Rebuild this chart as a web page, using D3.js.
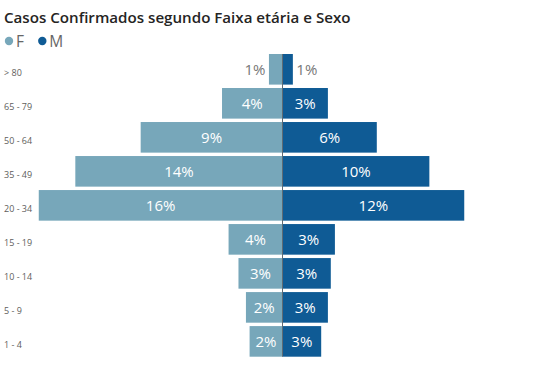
<!DOCTYPE html>
<html>
<head>
<meta charset="utf-8">
<script src="https://cdn.jsdelivr.net/npm/d3@7"></script>
<style>
  html, body { margin: 0; padding: 0; background: #fff; }
  svg { display: block; }
</style>
</head>
<body>
<svg id="chart" width="537" height="368"></svg>
<script>
const categories = ["> 80", "65 - 79", "50 - 64", "35 - 49", "20 - 34", "15 - 19", "10 - 14", "5 - 9", "1 - 4"];
const femaleValues = [0.89, 3.97, 9.31, 13.6, 16.0, 3.54, 2.89, 2.4, 2.16];
const maleValues = [0.68, 2.98, 6.19, 9.64, 11.93, 3.44, 3.17, 2.98, 2.54];
const seriesNames = ["F", "M"];
const title = "Casos Confirmados segundo Faixa etária e Sexo";

const colors = { F: "#77A7BA", M: "#0F5B95" };
const font = "'Open Sans', 'Segoe UI', sans-serif";

const svg = d3.select("#chart");

// Title
const t = svg.append("text")
  .attr("x", 4).attr("y", 23)
  .attr("font-family", font).attr("font-weight", 600)
  .attr("font-size", 16).attr("fill", "#252423")
  .text(title);
const tw = t.node().getComputedTextLength();
if (tw > 347) t.attr("font-size", 16 * 347 / tw);

// Legend
const legend = svg.append("g");
const legendX = [9, 42.3];
seriesNames.forEach((s, i) => {
  legend.append("circle").attr("cx", legendX[i]).attr("cy", 41).attr("r", 4.2).attr("fill", colors[s]);
  legend.append("text").attr("x", legendX[i] + 7).attr("y", 46.5)
    .attr("font-family", font).attr("font-size", 15.5).attr("fill", "#666666").text(s);
});

// Scales
const x = d3.scaleLinear().domain([-16.03, 16.03]).range([38.3, 526.7]);
const y = d3.scaleBand().domain(categories).range([52.3, 358.4]).paddingInner(0.1).paddingOuter(0.05);

// Category labels
svg.append("g").selectAll("text").data(categories).join("text")
  .attr("x", 4)
  .attr("y", d => y(d) + y.bandwidth() / 2 + 7)
  .attr("font-family", font).attr("font-size", 9).attr("fill", "#605E5C")
  .text(d => d);

const rows = categories.map((c, i) => ({ c, F: femaleValues[i], M: maleValues[i] }));

// Bars
const bars = svg.append("g");
bars.selectAll("rect.f").data(rows).join("rect").attr("class", "f")
  .attr("x", d => x(-d.F)).attr("width", d => x(0) - x(-d.F))
  .attr("y", d => y(d.c)).attr("height", y.bandwidth())
  .attr("fill", colors.F);
bars.selectAll("rect.m").data(rows).join("rect").attr("class", "m")
  .attr("x", x(0)).attr("width", d => x(d.M) - x(0))
  .attr("y", d => y(d.c)).attr("height", y.bandwidth())
  .attr("fill", colors.M);

// Center line
svg.append("line")
  .attr("x1", x(0)).attr("x2", x(0))
  .attr("y1", y(categories[0])).attr("y2", y(categories[categories.length - 1]) + y.bandwidth())
  .attr("stroke", "#5f6b73").attr("stroke-width", 1);

// Labels
const fmt = v => Math.round(v) + "%";
const labels = svg.append("g").attr("font-family", font).attr("font-size", 15);
rows.forEach(d => {
  [["F", -1], ["M", 1]].forEach(([s, dir]) => {
    const v = d[s];
    const x0 = x(0), x1 = x(dir * v);
    const w = Math.abs(x1 - x0);
    const txt = labels.append("text")
      .attr("y", y(d.c) + y.bandwidth() / 2 + 5.3)
      .text(fmt(v));
    const tw = txt.node().getComputedTextLength();
    if (tw + 6 <= w) {
      txt.attr("x", (x0 + x1) / 2).attr("text-anchor", "middle").attr("fill", "#ffffff");
    } else {
      txt.attr("x", x1 + dir * 3.5).attr("text-anchor", dir < 0 ? "end" : "start").attr("fill", "#777777");
    }
  });
});
</script>
</body>
</html>
